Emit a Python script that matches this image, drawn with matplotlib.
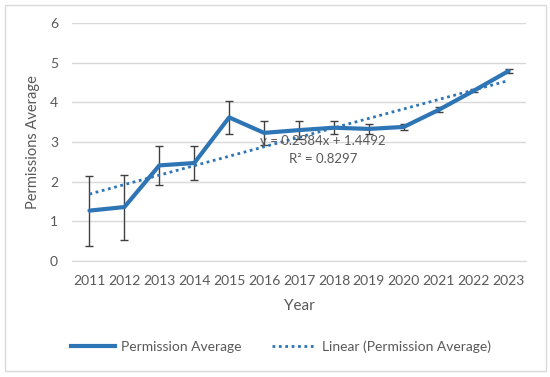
import matplotlib
matplotlib.use("Agg")
import matplotlib.pyplot as plt
from matplotlib.patches import Rectangle
from matplotlib.lines import Line2D

years = ["2011", "2012", "2013", "2014", "2015", "2016", "2017", "2018", "2019", "2020", "2021", "2022", "2023"]
averages = [1.27, 1.36, 2.41, 2.47, 3.62, 3.23, 3.30, 3.36, 3.33, 3.38, 3.81, 4.29, 4.79]
errors = [0.88, 0.82, 0.50, 0.42, 0.42, 0.31, 0.23, 0.16, 0.12, 0.08, 0.06, 0.04, 0.05]
trend_slope = 0.2384
trend_intercept = 1.4492
y_ticks = [0, 1, 2, 3, 4, 5, 6]

plt.rcParams['font.family'] = ['Lato', 'DejaVu Sans']
gray = '#595959'
blue = '#2E75B6'

fig = plt.figure(figsize=(5.5, 3.77), dpi=100)
fig.patches.append(Rectangle((5/550, 6/377), 541/550, 366/377, transform=fig.transFigure,
                             fill=False, edgecolor='#d9d9d9', linewidth=1))
ax = fig.add_axes([72/550, 1-261/377, 454/550, (261-23)/377])

x = list(range(1, len(years) + 1))
ax.errorbar(x, averages, yerr=errors, fmt='none', ecolor='#404040', elinewidth=1,
            capsize=3, capthick=1, zorder=3)
ax.plot(x, averages, color=blue, linewidth=3, solid_capstyle='round', zorder=4)
trend = [trend_slope * xi + trend_intercept for xi in x]
ax.plot(x, trend, color=blue, linewidth=2, linestyle=(0, (1, 1.3)), zorder=5)

ax.set_xlim(0.5, len(years) + 0.5)
ax.set_ylim(0, 6)
ax.set_yticks(y_ticks)
ax.set_xticks(x)
ax.set_xticklabels(years)
ax.yaxis.grid(True, color='#d9d9d9', linewidth=1)
ax.set_axisbelow(True)
for s in ['top', 'right', 'left']:
    ax.spines[s].set_visible(False)
ax.spines['bottom'].set_color('#d9d9d9')
ax.tick_params(axis='both', length=0, colors=gray, labelsize=10)
ax.tick_params(axis='x', pad=10)
ax.tick_params(axis='y', pad=10)
ax.set_xlabel("Year", color=gray, fontsize=11, labelpad=9)
ax.set_ylabel("Permissions Average", color=gray, fontsize=10.5, labelpad=7)

ax.text(323/550, 1-141/377, "y = 0.2384x + 1.4492", transform=fig.transFigure,
        ha='center', va='center', color=gray, fontsize=9.5, zorder=6)
ax.text(323/550, 1-159/377, "R² = 0.8297", transform=fig.transFigure,
        ha='center', va='center', color=gray, fontsize=9.5, zorder=6)

handles = [Line2D([0], [0], color=blue, linewidth=3),
           Line2D([0], [0], color=blue, linewidth=2, linestyle=(0, (1, 1.3)))]
fig.legend(handles, ["Permission Average", "Linear (Permission Average)"],
           loc='center', bbox_to_anchor=(281/550, 1-347/377), ncol=2, frameon=False,
           fontsize=10, labelcolor=gray, handlelength=3.2, columnspacing=2.2, handletextpad=0.4)

fig.savefig("out.png", dpi=100)
